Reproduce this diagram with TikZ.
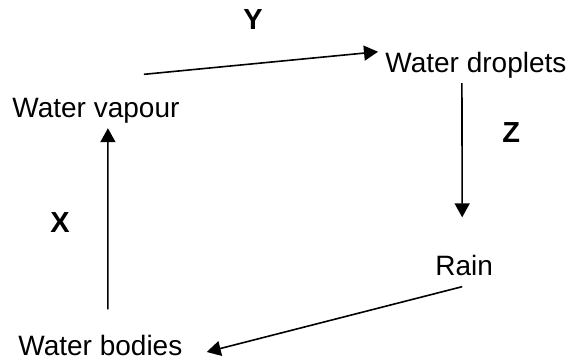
\documentclass[tikz,border=0pt]{standalone}
\usepackage{fontspec}
\setmainfont{Liberation Sans}
\usetikzlibrary{arrows.meta}

\begin{document}
\begin{tikzpicture}[x=0.5pt, y=-0.5pt,
	stage/.style={anchor=base west, inner sep=0pt, font=\fontsize{14}{16}\selectfont},
	letter/.style={anchor=base west, inner sep=0pt, font=\fontsize{14.5}{16}\selectfont\bfseries},
	flow/.style={line width=0.8pt, -{Triangle[length=7pt,width=7.5pt]}}]

\useasboundingbox (0,0) rectangle (573,363);

% the four stages
\node[stage] (vapour)   at (12, 118)  {Water vapour};
\node[stage] (droplets) at (385, 73)  {Water droplets};
\node[stage] (rain)     at (435, 276) {Rain};
\node[stage] (bodies)   at (18, 356)  {Water bodies};

% process letters
\node[letter] (y) at (243, 30)  {Y};
\node[letter] (z) at (502, 143) {Z};
\node[letter] (x) at (50, 233)  {X};

% arrows round the cycle
\draw[flow] ([xshift=24pt,yshift=12pt]vapour.north) -- ([xshift=-3.5pt,yshift=7pt]droplets.west);
\draw[flow] ([xshift=-7pt,yshift=-2pt]droplets.south) -- ([xshift=-1pt,yshift=19pt]rain.north);
\draw[flow] ([xshift=-1pt,yshift=-5pt]rain.south) -- ([xshift=12pt,yshift=-3pt]bodies.east);
\draw[flow] ([xshift=3.75pt,yshift=13pt]bodies.north) -- ([xshift=6pt,yshift=-2pt]vapour.south);

\end{tikzpicture}
\end{document}
